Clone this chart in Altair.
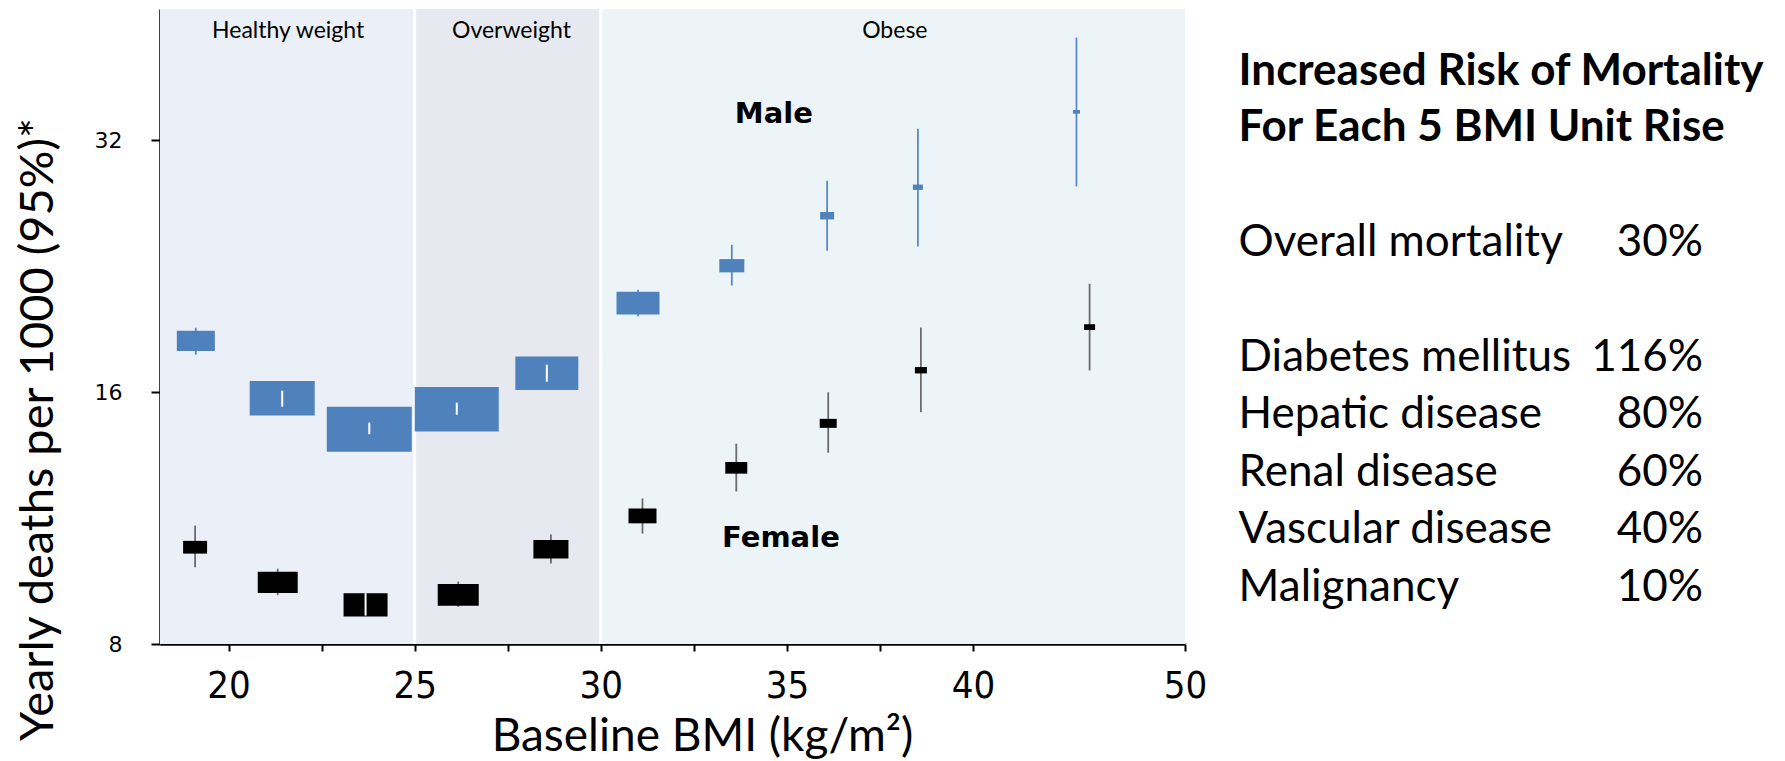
import altair as alt
import numpy as np
import pandas as pd

# ---------------- data ----------------
male_bmi = [19.12, 21.44, 23.78, 26.13, 28.55, 31.0, 33.52, 36.08, 38.52, 44.88]
male_rate = [18.42, 15.73, 14.44, 15.26, 16.85, 20.43, 22.65, 25.99, 28.11, 34.59]
male_lo = [17.73, 15.37, 14.25, 15.03, 16.46, 19.71, 21.45, 23.60, 23.88, 28.17]
male_hi = [19.10, 16.06, 14.71, 15.54, 17.25, 21.20, 23.99, 28.61, 33.01, 42.43]
male_weight = [20.0, 58.5, 100.0, 97.7, 54.9, 25.6, 8.65, 2.71, 1.38, 0.68]

female_bmi = [19.10, 21.32, 23.68, 26.17, 28.66, 31.12, 33.64, 36.11, 38.60, 45.5]
female_rate = [10.44, 9.48, 8.91, 9.16, 10.38, 11.38, 12.99, 14.68, 16.99, 19.13]
female_lo = [9.88, 9.15, 8.65, 8.86, 9.98, 10.84, 12.17, 13.54, 15.14, 16.98]
female_hi = [11.08, 9.84, 9.20, 9.50, 10.81, 11.94, 13.88, 15.99, 19.11, 21.55]
female_weight = [7.97, 22.1, 26.8, 23.3, 17.0, 10.85, 6.7, 4.0, 2.0, 1.67]

region_names = ["Healthy weight", "Overweight", "Obese"]
region_start = [18.157, 25, 30]
region_end = [25, 30, 50]
region_label_x = [21.6, 27.6, 37.9]
region_colors = ["#EAEFF8", "#E6E9EF", "#ECF4F8"]
separators = [25, 30]

sex_labels = ["Male", "Female"]
sex_label_x = [34.65, 34.84]
sex_label_y = [34.4, 10.7]

x_tick_values = [20, 22.5, 25, 27.5, 30, 32.5, 35, 37.5, 40, 50]
y_tick_values = [8, 16, 32]

header_lines = ["Increased Risk of Mortality", "For Each 5 BMI Unit Rise"]
causes = ["Overall mortality", "Diabetes mellitus", "Hepatic disease",
          "Renal disease", "Vascular disease", "Malignancy"]
cause_pct = ["30%", "116%", "80%", "60%", "40%", "10%"]

# ---------------- layout ----------------
W, H = 1025, 635
Y_MIN, Y_MAX = 8, 45.9
MAX_BOX = 85.0  # px width of a weight-100 box
BOX_RATIO = 0.53

pts = pd.concat([
    pd.DataFrame({"sex": "Male", "bmi": male_bmi, "rate": male_rate,
                  "lo": male_lo, "hi": male_hi, "weight": male_weight}),
    pd.DataFrame({"sex": "Female", "bmi": female_bmi, "rate": female_rate,
                  "lo": female_lo, "hi": female_hi, "weight": female_weight}),
], ignore_index=True)

px_per_log2 = H / np.log2(Y_MAX / Y_MIN)
box_w = MAX_BOX * np.sqrt(pts["weight"] / 100.0)
half_h = BOX_RATIO * box_w / 2 / px_per_log2
pts["inside"] = (np.log2(pts["lo"] / pts["rate"]) >= -half_h) & (np.log2(pts["hi"] / pts["rate"]) <= half_h)
inner = pts[pts["inside"]]

regions = pd.DataFrame({"name": region_names, "start": region_start, "end": region_end,
                        "lx": region_label_x, "color": region_colors})
seps = pd.DataFrame({"sep": separators})
sexlab = pd.DataFrame({"label": sex_labels, "x": sex_label_x, "y": sex_label_y})

x_scale = alt.Scale(domain=[18.157, 40, 50], range=[0, 813, W], zero=False, nice=False)
y_scale = alt.Scale(type="log", base=2, domain=[Y_MIN, Y_MAX], nice=False, zero=False)

x_axis = alt.Axis(
    values=x_tick_values, labelExpr="datum.value % 5 === 0 ? datum.label : ''",
    grid=False, domainColor="black", domainWidth=2.5, tickColor="black", tickWidth=2,
    tickSize=7, labelFont="Liberation Sans Narrow, DejaVu Sans Condensed, Lato",
    labelFontSize=38, labelColor="black", labelPadding=16, labelFlush=False,
    title="Baseline BMI (kg/m²)", titleFont="Lato", titleFontSize=46,
    titleFontWeight="normal", titleColor="black", titleX=542, titleY=106,
    titleAlign="center", titleBaseline="alphabetic",
)
y_axis = alt.Axis(
    values=y_tick_values, format="d", grid=False, domainColor="black", domainWidth=2.5,
    tickColor="black", tickWidth=2, tickSize=9, labelFont="DejaVu Sans",
    labelFontSize=22, labelColor="black", labelPadding=29,
    title="Yearly deaths per 1000 (95%)*", titleFont="Lato", titleFontSize=47,
    titleFontWeight="normal", titleColor="black", titleAngle=270, titleX=-122,
    titleY=420, titleAlign="center", titleBaseline="middle",
)


def X(field):
    return alt.X(field, type="quantitative", scale=x_scale, axis=x_axis)


def Y(field):
    return alt.Y(field, type="quantitative", scale=y_scale, axis=y_axis)


bg = alt.Chart(regions).mark_rect().encode(
    x=X("start"), x2="end", color=alt.Color("color:N", scale=None))
sep = alt.Chart(seps).mark_rule(color="white", strokeWidth=3).encode(x=X("sep"))
reg_text = alt.Chart(regions).mark_text(font="Lato", fontSize=23, color="black",
                                        baseline="middle").encode(
    x=X("lx"), y=alt.value(22), text="name:N")

ci = alt.Chart(pts).mark_rule(strokeWidth=1.8).encode(
    x=X("bmi"), y=Y("lo"), y2="hi",
    color=alt.condition("datum.sex == 'Male'", alt.value("#5A8AC6"), alt.value("#6B6B6B")))

boxes = alt.Chart(pts).mark_point(
    shape="M-1,-%.2fH1V%.2fH-1Z" % (BOX_RATIO, BOX_RATIO), filled=True, opacity=1, strokeWidth=0
).encode(
    x=X("bmi"), y=Y("rate"),
    size=alt.Size("weight:Q", scale=alt.Scale(domain=[0, 100], range=[0, MAX_BOX ** 2]), legend=None),
    color=alt.condition("datum.sex == 'Male'", alt.value("#4F81BD"), alt.value("black")),
)
inner_ci = alt.Chart(inner).mark_rule(strokeWidth=2, color="white").encode(
    x=X("bmi"), y=Y("lo"), y2="hi")

sex_text = alt.Chart(sexlab).mark_text(font="DejaVu Sans", fontWeight="bold", fontSize=29,
                                       color="black", baseline="middle").encode(
    x=X("x"), y=Y("y"), text="label:N")

layers = [bg, sep, reg_text, ci, boxes, inner_ci, sex_text]

# right-hand panel
TX = 1078.6
for i, line in enumerate(header_lines):
    layers.append(alt.Chart(pd.DataFrame({"t": [line]})).mark_text(
        font="Lato", fontWeight="bold", fontSize=44, color="black", align="left",
        baseline="middle").encode(text="t:N", x=alt.value(TX), y=alt.value(62.7 + 55.8 * i)))

row_y = [233.5] + [348.5 + 57.5 * k for k in range(len(causes) - 1)]
for name, pct, yy in zip(causes, cause_pct, row_y):
    layers.append(alt.Chart(pd.DataFrame({"t": [name]})).mark_text(
        font="Lato", fontSize=44, color="black", align="left", baseline="middle").encode(
        text="t:N", x=alt.value(TX), y=alt.value(yy)))
    layers.append(alt.Chart(pd.DataFrame({"t": [pct]})).mark_text(
        font="Lato", fontSize=44, color="black", align="right", baseline="middle").encode(
        text="t:N", x=alt.value(1543), y=alt.value(yy)))

chart = alt.layer(*layers).properties(
    width=W, height=H,
    autosize=alt.AutoSizeParams(type="none"),
    padding={"left": 160, "top": 9, "right": 600, "bottom": 117},
    background="white",
).configure_view(stroke=None)

chart.save("out.html", embed_options={"renderer": "svg", "actions": False})
